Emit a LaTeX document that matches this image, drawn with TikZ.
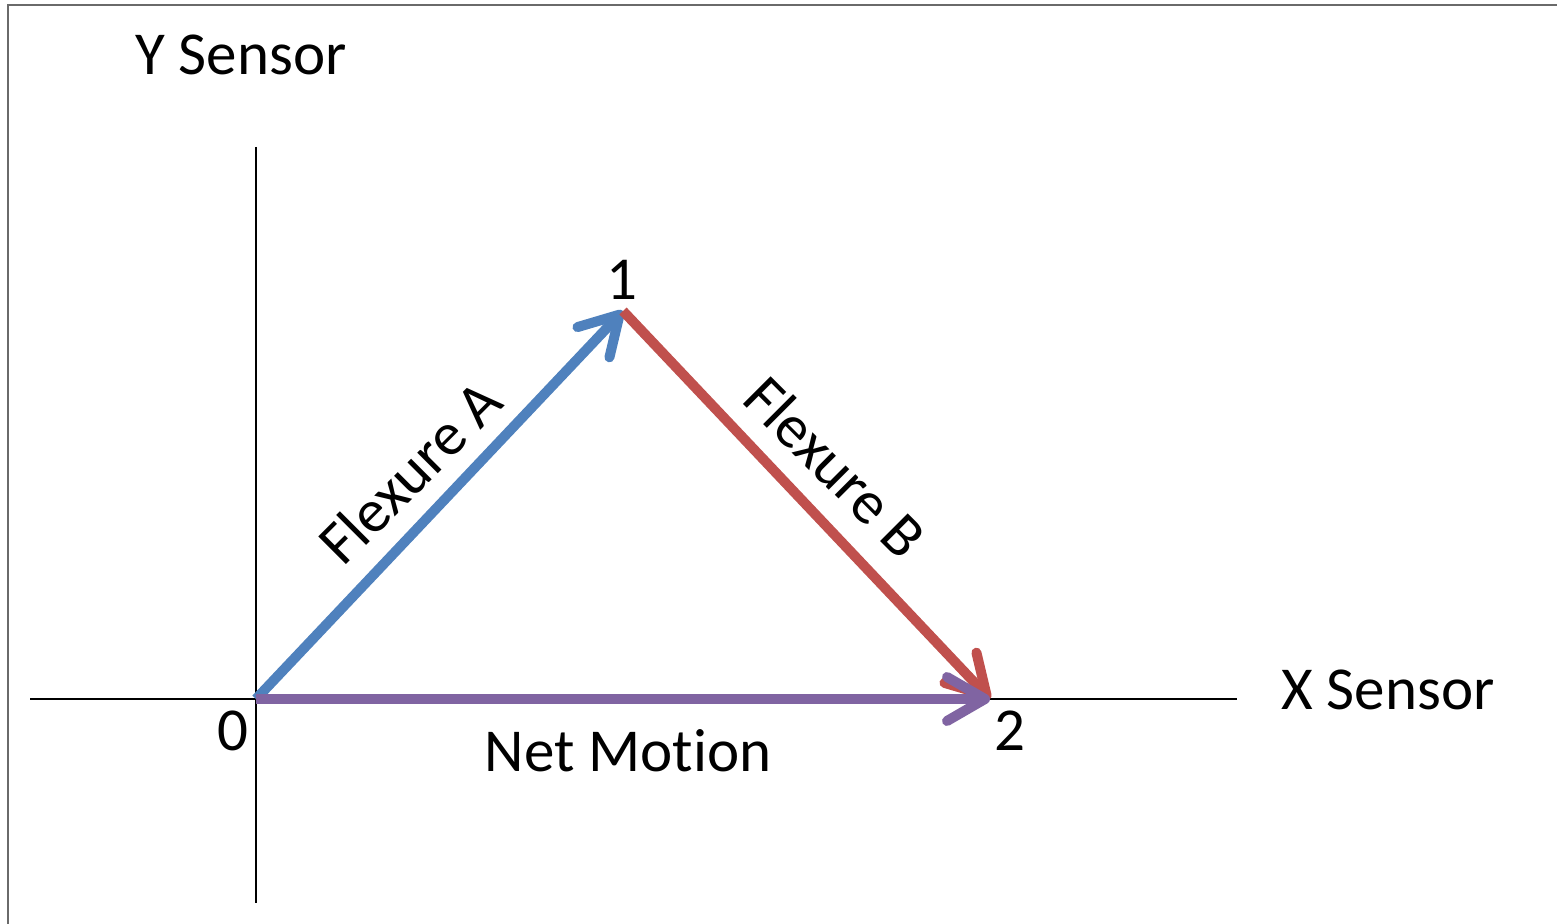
\documentclass[tikz,border=0pt]{standalone}
\usepackage{fontspec}
\setmainfont[Ligatures=NoCommon]{Carlito}
\usetikzlibrary{arrows.meta}
\definecolor{cblue}{HTML}{4F81BD}
\definecolor{cred}{HTML}{C0504D}
\definecolor{cpurple}{HTML}{8064A2}
\definecolor{cframe}{HTML}{6A6A6A}
\begin{document}
\begin{tikzpicture}[x=0.5pt,y=-0.5pt,
  lbl/.style={font=\fontsize{30.5}{34}\selectfont, inner sep=0pt},
  axis/.style={line width=0.85pt, black},
  vec/.style={line width=5pt, -{Straight Barb[length=19pt,width=22pt,line cap=round,round]}}]
\useasboundingbox (0,0) rectangle (1557,924);
\draw[cframe, line width=1.1pt] (8,924) -- (8,5) -- (1557,5);
% points
\coordinate (O) at (256,699);
\coordinate (P1) at (623,311);
\coordinate (P2) at (990,699);
\coordinate (xl) at (30,699);
\coordinate (xr) at (1237,699);
\coordinate (yt) at (256,147);
\coordinate (yb) at (256,903);
% axes
\draw[axis] (xl) -- (xr);
\draw[axis] (yt) -- (yb);
% vectors
\draw[vec, cblue] (O) -- (P1);
\draw[vec, cred] (P1) -- (P2);
\draw[vec, cpurple] (O) -- (P2);
% labels
\node[lbl] (ys) at (241,55) {Y Sensor};
\node[lbl] (xs) at (1388,690) {X Sensor};
\node[lbl] (nm) at (628,751) {Net Mot\kern0pt ion};
\node[lbl] (l0) at (233,731) {0};
\node[lbl] (l1) at (622,280) {1};
\node[lbl] (l2) at (1010,731) {2};
\node[lbl, rotate=45] (fa) at (410,472) {Flexure A};
\node[lbl, rotate=-45] (fb) at (836,467) {Flexure B};
\end{tikzpicture}
\end{document}
